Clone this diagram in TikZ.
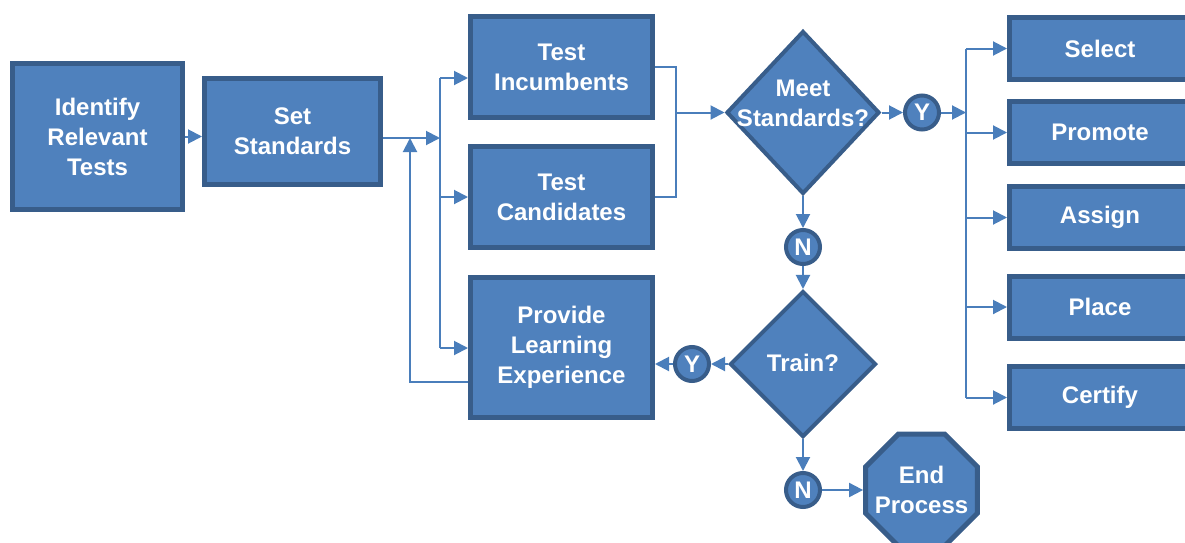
\documentclass[tikz,border=0pt]{standalone}
\usepackage{fontspec}
\setmainfont{Liberation Sans}
\usetikzlibrary{arrows.meta}
\usetikzlibrary{shapes}
\definecolor{boxfill}{HTML}{4F81BD}
\definecolor{boxline}{HTML}{385D8A}
\definecolor{wire}{HTML}{4A7EBB}

\begin{document}
\begin{tikzpicture}[x=0.5pt,y=-0.5pt,
    txt/.style={text=white,font=\fontsize{12}{15}\selectfont\bfseries,align=center},
    wireline/.style={draw=wire,line width=1pt},
    conn/.style={wireline,-{Triangle[length=7pt,width=7pt]}}]
    \clip (0,0) rectangle (1185,542);
    % process boxes
    \begin{scope}[every node/.style={rectangle,fill=boxfill,draw=boxline,line width=2.5pt,txt}]
      \node (ident) [minimum width=85pt,minimum height=73pt] at (97.5,136.5) {Identify\\Relevant\\Tests};
      \node (setstd) [minimum width=88pt,minimum height=53pt] at (292.5,131.5) {Set\\Standards};
      \node (testinc) [minimum width=91pt,minimum height=50.5pt] at (561.5,67) {Test\\Incumbents};
      \node (testcand) [minimum width=91pt,minimum height=50.5pt] at (561.5,197) {Test\\Candidates};
      \node (learn) [minimum width=91pt,minimum height=70pt] at (561.5,347.5) {Provide\\Learning\\Experience};
      \node (select) [minimum width=90.5pt,minimum height=31pt] at (1100,48.5) {Select};
      \node (promote) [minimum width=90.5pt,minimum height=31pt] at (1100,132.5) {Promote};
      \node (assign) [minimum width=90.5pt,minimum height=31pt] at (1100,217.5) {Assign};
      \node (place) [minimum width=90.5pt,minimum height=31pt] at (1100,307) {Place};
      \node (certify) [minimum width=90.5pt,minimum height=31pt] at (1100,397.5) {Certify};
    \end{scope}
    % decisions, answers and end
    \begin{scope}[every node/.style={fill=boxfill,draw=boxline,line width=2pt,inner sep=0pt,txt}]
      \node (meet) [diamond,minimum width=76.5pt,minimum height=81.5pt] at (803,112.5) {};
      \node (train) [diamond,minimum width=73pt,minimum height=73pt] at (803,364) {};
      \node (endp) [regular polygon,regular polygon sides=8,minimum size=60.5pt,line width=2.5pt] at (921.5,490) {};
      \node (y1) [circle,minimum size=17pt] at (922,112.5) {Y};
      \node (n1) [circle,minimum size=17pt] at (803,247) {N};
      \node (y2) [circle,minimum size=17pt] at (692,364) {Y};
      \node (n2) [circle,minimum size=17pt] at (803,490) {N};
    \end{scope}
    \node (meettxt) [txt] at (803,103) {Meet\\Standards?};
    \node (traintxt) [txt] at (803,363) {Train?};
    \node (endtxt) [txt] at (921.5,490) {End\\Process};
    % bus points
    \coordinate (lbus) at (440,138);
    \coordinate (ltop) at (440,78);
    \coordinate (lbot) at (440,348);
    \coordinate (fb) at (410,382);
    \coordinate (mbus) at (676,112.5);
    \coordinate (rbus) at (966,112.5);
    \begin{scope}[every edge/.style={conn}]
      \path (ident.east) edge (ident.east -| setstd.west);
      \path (meet) edge (y1);
      \path (meet) edge (n1);
      \path (n1) edge (train);
      \path (train) edge (y2);
      \path (train) edge (n2);
      \path (n2) edge (n2 -| endp.west);
      \path (y2) edge (y2 -| learn.east);
    \end{scope}
    \draw[conn] (setstd.east |- lbus) -- (lbus);
    \draw[wireline] (ltop) -- (lbot);
    \draw[conn] (ltop) -- (ltop -| testinc.west);
    \draw[conn] (lbus |- testcand) -- (testcand.west);
    \draw[conn] (lbot) -- (lbot -| learn.west);
    \draw[conn] (learn.west |- fb) -- (fb) -- (fb |- lbus);
    \draw[wireline] (testinc.east) -| (mbus) |- (testcand.east);
    \draw[conn] (mbus) -- (meet.west);
    \draw[conn] (y1) -- (rbus);
    \draw[wireline] (rbus |- select) -- (rbus |- certify);
    \foreach \n in {select,promote,assign,place,certify}
      \draw[conn] (rbus |- \n) -- (\n.west);
\end{tikzpicture}
\end{document}
